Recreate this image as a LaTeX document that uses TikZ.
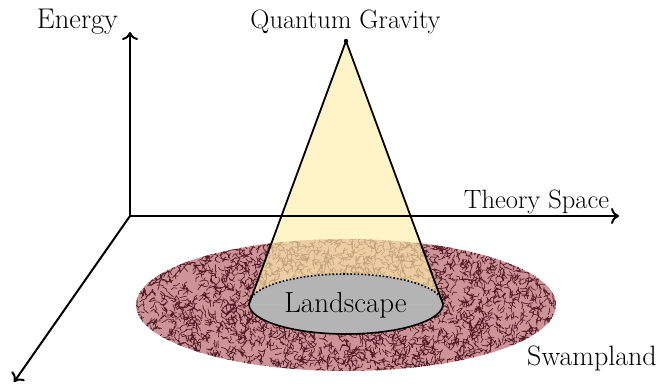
\documentclass[tikz,border=0pt]{standalone}
\usepackage{fontspec}
\usetikzlibrary{arrows.meta}
\definecolor{swampfill}{RGB}{204,148,152}
\definecolor{swampink}{RGB}{80,25,35}
\definecolor{conefill}{RGB}{255,238,170}
\definecolor{landfill}{RGB}{180,180,180}
\begin{document}
\begin{tikzpicture}[x=1pt,y=-1pt,
  axis/.style={line width=2pt,-{To[length=8pt,width=16pt]}},
  edge/.style={line width=1.8pt,line join=round},
  lbl/.style={inner sep=0pt,anchor=base}]
\useasboundingbox (0,0) rectangle (663,383);
% swampland
\fill[swampfill] (346,305) ellipse [x radius=210pt, y radius=66pt];
\begin{scope}
\clip (346,305) ellipse [x radius=210pt, y radius=66pt];
\pgfmathsetseed{7}
\draw[swampink,line width=0.65pt,line cap=round]
 \foreach \i [evaluate=\i as \px using {134+424*rnd},
              evaluate=\i as \py using {237+136*rnd},
              evaluate=\i as \ta using {360*rnd},
              evaluate=\i as \tb using {\ta+70*rand}] in {1,...,3400}
 { (\px,\py) to[out=\ta+40,in=\ta+220] ++(\ta:3.4) to[out=\tb-40,in=\tb+140] ++(\tb:3.4) };
\end{scope}
% coordinates
\coordinate (O) at (130,216);
\coordinate (E) at (130,32);
\coordinate (T) at (619,216);
\coordinate (D) at (14,382);
\coordinate (A) at (346,41);
\coordinate (CL) at (249,304);
\coordinate (CR) at (443,304);
% cone fill
\fill[conefill,fill opacity=0.65] (A) -- (CL) arc[start angle=180,end angle=360,x radius=97pt,y radius=30pt] -- cycle;
% axes
\draw[axis] (O) -- (E);
\draw[axis] (O) -- (T);
\draw[axis] (O) -- (D);
% landscape
\fill[landfill] (346,304) ellipse [x radius=97pt, y radius=30pt];
\draw[gray!55,line width=0.5pt,dash dot] (CL) -- (CR);
\begin{scope}
\clip (240,304) rectangle (460,345);
\draw[line width=1.6pt] (346,304) ellipse [x radius=97pt, y radius=30pt];
\end{scope}
\begin{scope}
\clip (240,260) rectangle (460,304);
\draw[line width=1.6pt,dotted] (346,304) ellipse [x radius=97pt, y radius=30pt];
\end{scope}
% cone edges
\draw[edge] (CL) -- (A) -- (CR);
\fill (A) circle (2.2pt);
% labels
\node[lbl] (le) at (77.5,28) {\fontsize{28.5}{33}\selectfont Energy};
\node[lbl] (lq) at (345.5,28) {\fontsize{26.5}{31}\selectfont Quantum Gravity};
\node[lbl] (lt) at (536.5,208) {\fontsize{26.5}{31}\selectfont Theory Space};
\node[lbl] (ll) at (345.5,312) {\fontsize{29}{34}\selectfont Landscape};
\node[lbl] (ls) at (592,365) {\fontsize{28}{33}\selectfont Swampland};
\end{tikzpicture}
\end{document}
